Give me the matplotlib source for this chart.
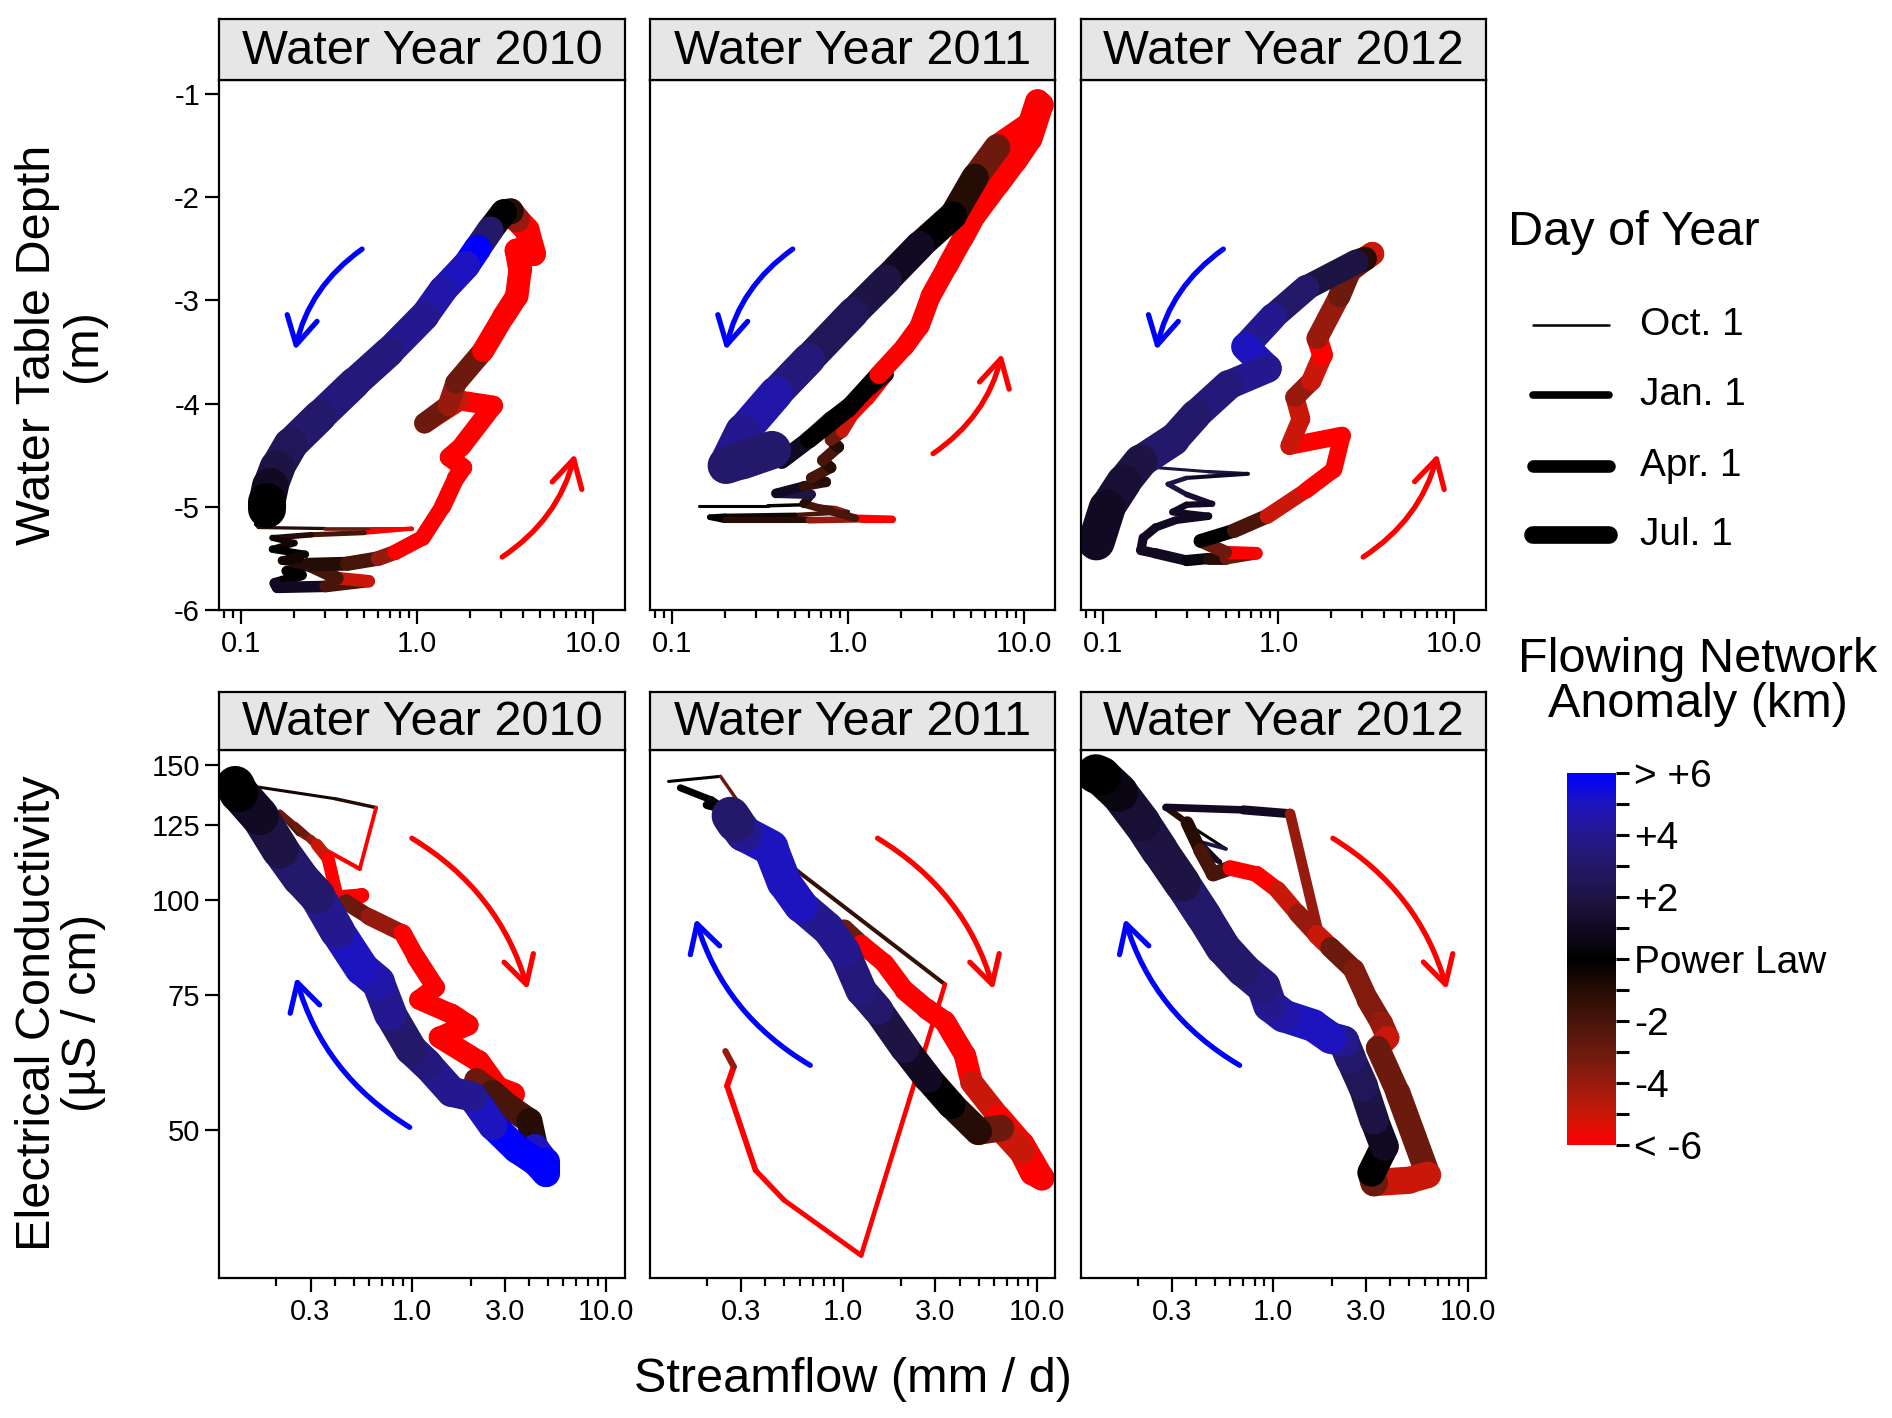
import numpy as np
import matplotlib
matplotlib.use('Agg')
import matplotlib.pyplot as plt
from matplotlib.collections import LineCollection
from matplotlib.colors import LinearSegmentedColormap, Normalize
from matplotlib.patches import FancyArrowPatch
from matplotlib.lines import Line2D
from matplotlib.ticker import FixedLocator, FixedFormatter, NullLocator, NullFormatter
from matplotlib.cm import ScalarMappable

plt.rcParams['font.family'] = ['Liberation Sans', 'DejaVu Sans']
plt.rcParams['axes.unicode_minus'] = False

nan = np.nan

# ---- water table depth vs streamflow (top row) ----
wt10_q = [0.12, 0.125, 0.3, 0.55, 0.93, 0.5, 0.25, 0.15, 0.2, 0.15, 0.23, 0.17, 0.26, 0.18, 0.22, 0.155, 0.16, 0.3, 0.53, 0.35,
          0.24, 0.4, 0.6, 0.75, 1.07, 1.39, 1.66, 1.82, 1.52, 1.78, 2.7, 1.74, 1.1, 1.5, 1.66, 2.37, 3.09, 3.68, 3.85, 3.68,
          4.59, 4.21, 3.7, 3.4, 3.1, 2.6, 2.2, 1.9, 1.4, 1.1, 0.69, 0.44, 0.28, 0.19, 0.16, 0.146, 0.14, 0.14]
wt10_y = [-5.17, -5.2, -5.21, -5.21, -5.21, -5.25, -5.27, -5.3, -5.35, -5.41, -5.46, -5.52, -5.56, -5.62, -5.66, -5.74, -5.78, -5.77, -5.72, -5.69,
          -5.56, -5.55, -5.5, -5.44, -5.3, -5.0, -4.72, -4.62, -4.52, -4.42, -4.02, -3.97, -4.19, -4.02, -3.8, -3.49, -3.16, -2.96, -2.7, -2.52,
          -2.55, -2.32, -2.22, -2.14, -2.15, -2.32, -2.5, -2.66, -2.9, -3.15, -3.5, -3.8, -4.12, -4.4, -4.62, -4.8, -4.95, -5.02]
wt10_anom = [0, -1, -3, -5, -6, -2, -1, -0.5, -0.5, 0, -0.5, -0.5, -1, 0, 0, 1, 1, -2, -5, -2,
             -1, -2, -4, -6, -6, -6, -6, -6, -6, -6, -6, -5, -3, -4, -3, -6, -6, -6, -6, -6,
             -6, -6, -4, -1, 0, 3, 6, 5, 4.5, 4, 3.5, 3.5, 3, 2.5, 2, 1, 0, 0]
wt10_day = [0, 2, 6, 10, 14, 20, 26, 32, 38, 44, 50, 56, 62, 68, 74, 80, 84, 90, 96, 102,
            108, 114, 120, 126, 134, 142, 150, 156, 160, 164, 170, 174, 178, 182, 186, 192, 198, 204, 210, 214,
            218, 222, 226, 230, 234, 240, 246, 252, 258, 266, 276, 288, 300, 312, 325, 338, 350, 364]

wt11_q = [0.142, 0.35, 0.56, 0.85, 1.0, 0.5, 0.2, 0.164, 0.2, 0.6, 1.2, 1.78, 1.1, 0.56, 0.62, 0.39, 0.56, 0.75, 0.62, 0.8,
          0.72, 0.88, 0.8, 0.93, 1.07, 1.3, 1.66, 1.2, 0.8, 0.55, 0.42, 0.6, 1.0, 1.5, 2.1, 2.56, 2.96, 3.68, 4.5, 5.29,
          7.07, 9.0, 10.9, 12.6, 12.0, 10.9, 7.07, 5.29, 3.96, 2.56, 1.66, 1.075, 0.6, 0.39, 0.253, 0.203, 0.25, 0.37]
wt11_y = [-4.99, -4.99, -4.98, -5.01, -5.05, -5.08, -5.09, -5.1, -5.13, -5.13, -5.12, -5.12, -5.11, -4.97, -4.88, -4.87, -4.8, -4.76, -4.72, -4.62,
          -4.55, -4.42, -4.35, -4.27, -4.1, -3.95, -3.72, -3.92, -4.15, -4.4, -4.55, -4.35, -4.05, -3.72, -3.45, -3.25, -2.96, -2.67, -2.4, -2.18,
          -1.89, -1.65, -1.44, -1.11, -1.08, -1.3, -1.52, -1.81, -2.18, -2.47, -2.8, -3.12, -3.57, -3.9, -4.27, -4.6, -4.55, -4.45]
wt11_anom = [0, 0, -2, -4, -2, -0.5, 0, 0, -1, -4, -6, -6, -2, -1, 2, 1, -1.5, -1, -2, -1,
             -2, -1, -3, -5, -6, -6, -1, 0, 1, 2, 1, 0, 0, -6, -6, -6, -6, -6, -6, -6,
             -6, -6, -6, -6, -6, -6, -3, -1, 0, 1, 2, 2.5, 3.5, 4.5, 4, 3, 3, 3]
wt11_day = [0, 4, 8, 12, 15, 20, 24, 27, 30, 35, 40, 44, 48, 56, 62, 66, 70, 74, 78, 82,
            86, 90, 94, 98, 104, 110, 116, 122, 128, 134, 140, 146, 152, 158, 164, 170, 176, 182, 188, 194,
            200, 206, 212, 218, 222, 226, 234, 242, 250, 260, 270, 282, 296, 310, 326, 340, 352, 364]

wt12_q = [0.2, 0.4, 0.67, 0.3, 0.235, 0.3, 0.42, 0.3, 0.25, 0.4, 0.26, 0.2, 0.17, 0.165, 0.2, 0.3, 0.4, 0.5, 0.748, 0.5,
          0.36, 0.56, 0.865, 1.44, 2.06, 2.30, 1.156, 1.34, 1.24, 1.54, 1.78, 1.66, 2.22, 2.56, 3.42, 3.1, 2.76, 1.44, 0.93, 0.647,
          0.865, 0.52, 0.338, 0.253, 0.164, 0.132, 0.106, 0.092]
wt12_y = [-4.62, -4.66, -4.68, -4.72, -4.78, -4.88, -4.97, -4.98, -5.05, -5.09, -5.13, -5.2, -5.3, -5.42, -5.45, -5.52, -5.5, -5.5, -5.45, -5.44,
          -5.33, -5.23, -5.09, -4.84, -4.64, -4.31, -4.41, -4.15, -3.94, -3.78, -3.53, -3.37, -2.96, -2.71, -2.55, -2.6, -2.63, -2.88, -3.16, -3.45,
          -3.66, -3.82, -4.11, -4.35, -4.56, -4.76, -5.01, -5.34]
wt12_anom = [2, 2, 1, 2, 2, 1.5, 1, 1, 1, 1, 1, 1, 1, 1, 1, 0.5, -1, -3, -6, -3,
             0, -2, -5, -6, -6, -6, -5, -5, -4, -5, -6, -4, -3, -3, -5, -1, 2, 3, 4, 5,
             4, 3.5, 3, 3, 2, 1.5, 1, 0]
wt12_day = [0, 5, 10, 16, 20, 26, 32, 36, 40, 46, 50, 56, 62, 68, 74, 82, 88, 92, 98, 102,
            108, 116, 124, 134, 142, 148, 154, 160, 166, 172, 180, 186, 194, 202, 208, 212, 216, 230, 242, 252,
            258, 268, 280, 294, 308, 322, 338, 362]

# ---- electrical conductivity vs streamflow (bottom row) ----
ec10_q = [0.142, 0.4, 0.653, 0.538, 0.34, 0.26, 0.209, 0.25, 0.3, 0.323, 0.37, 0.412, 0.551, 0.454, 0.6, 0.895, 1.05, 1.318, 1.086, 1.6,
          1.94, 1.384, 2.2, 2.8, 3.31, 2.14, 2.6, 3.2, 4.02, 4.3, 4.88, 4.88, 4.3, 3.47, 2.6, 2.04, 1.6, 1.196, 0.985, 0.773,
          0.669, 0.551, 0.412, 0.323, 0.266, 0.209, 0.164, 0.128, 0.123]
ec10_y = [141, 135.5, 131.9, 109.7, 117, 122, 130, 125, 120, 118, 113, 100.7, 101.3, 99.3, 95, 90.4, 84, 76.8, 74, 70.9,
          68.6, 66.1, 61.5, 56.5, 55.7, 58.1, 56, 53.5, 51.4, 47.5, 45.5, 43.9, 45.5, 47.2, 50.7, 55.3, 56.1, 60.9, 63.8, 70.9,
          78, 81.3, 91, 101.3, 106.8, 116.3, 128.5, 138, 141]
ec10_anom = [-0.5, -1, -6, -6, -4, -2, -3, -3, -4, -5, -6, -6, -6, -3, -4, -6, -6, -6, -6, -6,
             -6, -6, -6, -6, -6, -3, -2, -2, -1, 5, 6, 6, 6, 6, 5, 4, 4, 3.5, 3, 4,
             4.5, 5, 4, 3, 3, 2, 1, 0, 0]
ec10_day = [0, 4, 8, 12, 16, 22, 30, 45, 60, 90, 100, 110, 120, 128, 140, 150, 158, 164, 170, 176,
            182, 188, 194, 200, 206, 212, 216, 222, 228, 234, 240, 246, 252, 258, 264, 270, 276, 284, 290, 300,
            308, 314, 324, 332, 338, 346, 354, 360, 365]

ec11_q = [0.127, 0.235, 0.336, 0.461, 3.36, 1.244, 0.499, 0.356, 0.254, 0.275, 0.249, nan,
          0.146, 0.21, 0.25, 0.2, nan,
          0.55, 0.8, 1.02, 1.244, 1.64, 2.084, 2.7, 3.36, 4.26, 4.61, 6.33, 8.37, 10.6, 9.5,
          8.37, 6.5, 4.99, 3.63, 2.75, 2.084, 1.517, 1.244, 1.02, 0.836, 0.609, 0.499, 0.426, 0.31, 0.265, 0.28]
ec11_y = [142.7, 144.9, 127.2, 114.2, 77.5, 34.3, 40.5, 44.3, 57.1, 60.5, 63.4, nan,
          140, 135, 131, 133, nan,
          101, 92, 91.7, 87.5, 82.6, 76.1, 72, 69.3, 62.6, 57.7, 52.1, 48, 43.3, 44,
          46.9, 50.3, 49.8, 53.9, 58.4, 64, 71.8, 76.1, 85.5, 91.7, 98.2, 105.4, 116.9, 122, 128.7, 126]
ec11_anom = [0, -3, -1.5, -1.5, -6, -6, -6, -6, -6, -4, -4, nan,
             0, 0.5, 0, 0, nan,
             1, 0, -3, -6, -6, -6, -6, -6, -6, -5, -6, -6, -6, -6,
             -5, -3, -1, 0, 1, 2, 3, 3.5, 4, 4, 5, 5, 5, 4, 3, 3]
ec11_day = [0, 4, 8, 10, 16, 18, 22, 26, 30, 32, 34, nan,
            40, 48, 54, 60, nan,
            120, 140, 150, 156, 164, 172, 180, 186, 194, 200, 208, 216, 224, 230,
            234, 238, 244, 250, 258, 266, 276, 282, 292, 300, 310, 318, 328, 338, 350, 365]

ec12_q = [0.39, 0.57, 0.42, 0.53, 0.40, 0.36, 0.28, 0.7, 1.22, 1.68, nan,
          0.36, 0.42, 0.49, 0.6, 0.82, 1.05, 1.33, 1.68, 1.97, 2.6, 3.06, 3.6, 3.88, 3.45, 4.37, 6.25, 5.0, 3.3,
          3.2, 3.73, 3.3, 2.9, 2.5, 2.3, 1.97, 1.6, 1.13, 0.96, 0.89, 0.70, 0.55, 0.44, 0.34, 0.26, 0.21, 0.16, 0.13, 0.122]
ec12_y = [124, 116.5, 119, 112, 116, 126, 132, 131, 129.5, 92, nan,
          126, 116, 108, 110, 108, 103, 96, 90, 86.6, 81, 74, 69, 66, 64, 56, 43.7, 43, 42.7,
          44, 47.6, 51.6, 57, 62, 65.3, 66, 68.5, 70.5, 72.8, 77, 81, 86.6, 95, 105, 116, 126, 138, 145, 146]
ec12_anom = [0, 2, 1, 1, 0, -1, 1, 1, -4, -4, nan,
             -1, -2, -2, -6, -6, -5, -4, -5, -3, -3.5, -3.5, -4, -5, -3, -3, -5, -5, -3,
             0, 1, 2, 2.5, 3, 4, 5, 5, 4.5, 4, 3.5, 3, 3, 3, 2, 2, 1.5, 0.5, 0, 0]
ec12_day = [0, 8, 14, 20, 26, 34, 45, 60, 75, 90, nan,
            100, 110, 118, 125, 135, 145, 155, 165, 175, 185, 195, 200, 205, 210, 220, 235, 242, 248,
            252, 258, 265, 272, 280, 285, 290, 296, 302, 306, 310, 316, 322, 328, 336, 344, 350, 357, 362, 365]

# direction arrows (start, end) per panel
wt_arrow_blue = [((0.5, -2.49), (0.2, -3.51))] * 3
wt_arrow_red = [((2.95, -5.5), (7.97, -4.46)), ((2.96, -4.5), (7.6, -3.49)), ((2.94, -5.5), (8.13, -4.46))]
ec_arrow_red = [((0.97, 120.8), (3.98, 75.7)), ((1.47, 120.8), (6.04, 75.7)), ((1.97, 120.8), (7.9, 75.7))]
ec_arrow_blue = [((1.0, 50.2), (0.25, 79.8)), ((0.70, 60.5), (0.173, 95.2)), ((0.69, 60.5), (0.17, 95.2))]

years = ['2010', '2011', '2012']
legend_labels = ['Oct. 1', 'Jan. 1', 'Apr. 1', 'Jul. 1']
legend_days = [0, 92, 182, 273]
cbar_ticks = [-6, -4, -2, 0, 2, 4, 6]
cbar_labels = ['< -6', '-4', '-2', 'Power Law', '+2', '+4', '> +6']

anom_colors = ['#FF0000', '#C8180A', '#951B0E', '#6C1A0E', '#47150A', '#250C05', '#000000',
               '#120A22', '#1E1444', '#231868', '#24188E', '#1E14BE', '#0000FF']
cmap = LinearSegmentedColormap.from_list('anomaly', anom_colors)
norm = Normalize(-6, 6)


def key_width(day):
    return 1.8 + 0.040 * np.asarray(day, dtype=float)


def path_width(day):
    # daily wiggles in the source make the drawn bands look wider than the key
    return 2.2 + 0.072 * np.asarray(day, dtype=float)


def draw_path(ax, q, v, anom, day):
    q, v, anom, day = [np.asarray(a, dtype=float) for a in (q, v, anom, day)]
    pts = np.column_stack([q, v])
    segs = np.stack([pts[:-1], pts[1:]], axis=1)
    ok = ~np.isnan(segs).any(axis=(1, 2))
    lc = LineCollection(segs[ok], colors=cmap(norm(anom[:-1][ok])), linewidths=path_width(day[:-1][ok]),
                        capstyle='round', joinstyle='round')
    ax.add_collection(lc, autolim=False)


def draw_arrow(ax, ends, color, rad):
    arr = FancyArrowPatch(ends[0], ends[1], connectionstyle=f'arc3,rad={rad}',
                          arrowstyle='->,head_length=0.9,head_width=0.5', mutation_scale=22,
                          lw=3.8, color=color, capstyle='round', joinstyle='round')
    ax.add_patch(arr)


fig = plt.figure(figsize=(18.92, 14.18), dpi=100)
lefts = [0.1160, 0.3436, 0.5712]
pw = 0.2141
top_row = (0.5697, 0.3738, 0.0428)
bot_row = (0.0984, 0.3729, 0.041)

wt_data = [(wt10_q, wt10_y, wt10_anom, wt10_day), (wt11_q, wt11_y, wt11_anom, wt11_day), (wt12_q, wt12_y, wt12_anom, wt12_day)]
ec_data = [(ec10_q, ec10_y, ec10_anom, ec10_day), (ec11_q, ec11_y, ec11_anom, ec11_day), (ec12_q, ec12_y, ec12_anom, ec12_day)]


def make_panel(left, row, year):
    b, h, sh = row
    ax = fig.add_axes([left, b, pw, h])
    strip = fig.add_axes([left, b + h, pw, sh])
    strip.set_facecolor('#E6E6E6')
    strip.set_xticks([])
    strip.set_yticks([])
    strip.text(0.5, 0.47, 'Water Year ' + year, ha='center', va='center', fontsize=35, transform=strip.transAxes)
    for a in (ax, strip):
        for s in a.spines.values():
            s.set_linewidth(1.6)
            s.set_color('black')
    ax.tick_params(which='major', length=10, width=1.6, labelsize=21, pad=4, color='black')
    ax.tick_params(which='minor', length=5.5, width=1.6, color='black')
    return ax


for i in range(3):
    # top: water table depth
    ax = make_panel(lefts[i], top_row, years[i])
    ax.set_xscale('log')
    ax.set_xlim(0.075, 15.1)
    ax.set_ylim(-6, -0.87)
    ax.xaxis.set_major_locator(FixedLocator([0.1, 1, 10]))
    ax.xaxis.set_major_formatter(FixedFormatter(['0.1', '1.0', '10.0']))
    ax.xaxis.set_minor_locator(FixedLocator([0.08, 0.09, 0.2, 0.3, 0.4, 0.5, 0.6, 0.7, 0.8, 0.9,
                                             2, 3, 4, 5, 6, 7, 8, 9]))
    ax.xaxis.set_minor_formatter(NullFormatter())
    ax.set_yticks([-1, -2, -3, -4, -5, -6])
    ax.set_yticklabels(['-1', '-2', '-3', '-4', '-5', '-6'])
    if i > 0:
        ax.tick_params(axis='y', left=False, labelleft=False)
    draw_path(ax, *wt_data[i])
    draw_arrow(ax, wt_arrow_blue[i], '#0000FF', 0.2)
    draw_arrow(ax, wt_arrow_red[i], '#FF0000', 0.2)

    # bottom: electrical conductivity
    ax = make_panel(lefts[i], bot_row, years[i])
    ax.set_xscale('log')
    ax.set_yscale('log')
    ax.set_xlim(0.102, 12.4)
    ax.set_ylim(32, 157)
    ax.xaxis.set_major_locator(FixedLocator([0.3, 1, 3, 10]))
    ax.xaxis.set_major_formatter(FixedFormatter(['0.3', '1.0', '3.0', '10.0']))
    ax.xaxis.set_minor_locator(FixedLocator([0.2, 0.4, 0.5, 0.6, 0.7, 0.8, 0.9, 2, 4, 5, 6, 7, 8, 9]))
    ax.xaxis.set_minor_formatter(NullFormatter())
    ax.yaxis.set_major_locator(FixedLocator([50, 75, 100, 125, 150]))
    ax.yaxis.set_major_formatter(FixedFormatter(['50', '75', '100', '125', '150']))
    ax.yaxis.set_minor_locator(NullLocator())
    if i > 0:
        ax.tick_params(axis='y', left=False, labelleft=False)
    draw_path(ax, *ec_data[i])
    draw_arrow(ax, ec_arrow_red[i], '#FF0000', -0.2)
    draw_arrow(ax, ec_arrow_blue[i], '#0000FF', -0.2)

# axis titles
fig.text(0.032, 0.7566, 'Water Table Depth\n(m)', rotation=90, ha='center', va='center',
         fontsize=35, linespacing=1.05, multialignment='center')
fig.text(0.032, 0.2855, 'Electrical Conductivity\n(µS / cm)', rotation=90, ha='center', va='center',
         fontsize=35, linespacing=1.05, multialignment='center')
fig.text(0.4506, 0.027, 'Streamflow (mm / d)', ha='center', va='center', fontsize=35)

# line width legend
fig.text(0.797, 0.8358, 'Day of Year', ha='left', va='center', fontsize=35)
leg_y = [0.7707, 0.7211, 0.6715, 0.6228]
for lab, d, yy in zip(legend_labels, legend_days, leg_y):
    fig.add_artist(Line2D([0.8100, 0.8505], [yy, yy], transform=fig.transFigure, color='black',
                          lw=float(key_width(d)), solid_capstyle='round'))
    fig.text(0.867, yy, lab, ha='left', va='center', fontsize=28)

# colour bar
fig.text(0.8975, 0.519, 'Flowing Network\nAnomaly (km)', ha='center', va='center', fontsize=35, linespacing=1.0)
cax = fig.add_axes([0.828, 0.1925, 0.0263, 0.2627])
cb = fig.colorbar(ScalarMappable(norm=norm, cmap=cmap), cax=cax)
cb.outline.set_visible(False)
cb.set_ticks(cbar_ticks)
cb.set_ticklabels(cbar_labels)
cax.yaxis.set_minor_locator(FixedLocator([-5, -3, -1, 1, 3, 5]))
cax.tick_params(which='both', length=9, width=2.2, labelsize=28, pad=4, color='black')

fig.savefig('out.png', dpi=100)
